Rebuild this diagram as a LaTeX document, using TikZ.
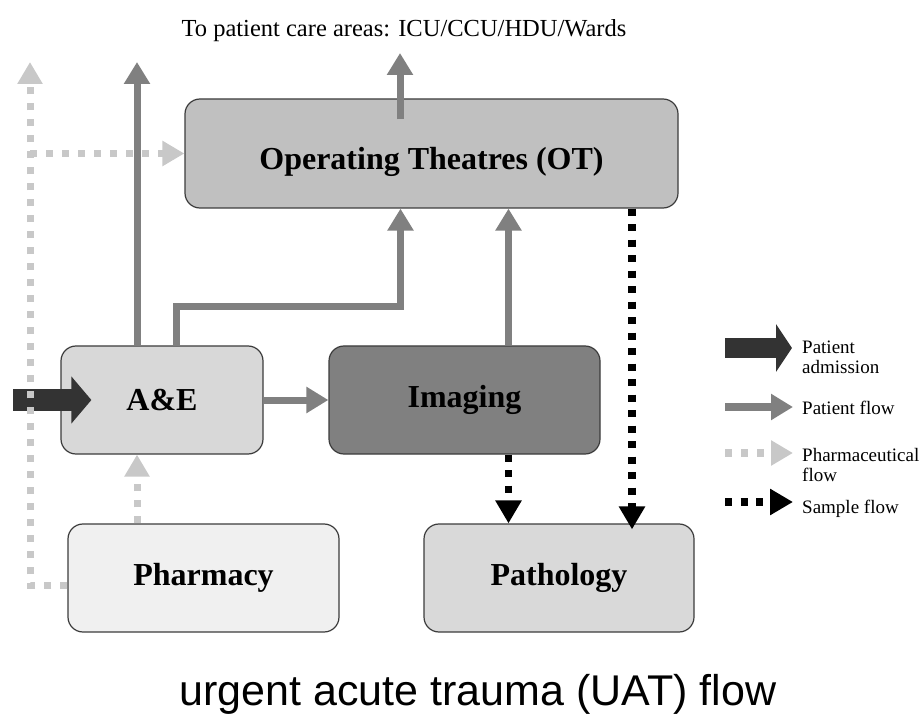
\documentclass[tikz,border=0pt]{standalone}
\usepackage{fontspec}
\setmainfont{Liberation Serif}
\newfontfamily\titlefont{Liberation Sans}
\usetikzlibrary{arrows.meta,calc}

\definecolor{boxline}{RGB}{60,60,60}
\definecolor{otfill}{RGB}{192,192,192}
\definecolor{aefill}{RGB}{216,216,216}
\definecolor{imgfill}{RGB}{128,128,128}
\definecolor{pharmfill}{RGB}{240,240,240}
\definecolor{pathfill}{RGB}{217,217,217}
\definecolor{pflowcol}{RGB}{128,128,128}
\definecolor{phflowcol}{RGB}{200,200,200}
\definecolor{admitcol}{RGB}{51,51,51}

\tikzset{
  box/.style={draw=boxline, line width=1.2pt, rounded corners=15pt, inner sep=0pt,
              minimum height=108pt, font=\fontsize{32}{36}\selectfont\bfseries},
  pflow/.style={pflowcol, line width=7pt, -{Triangle[width=25pt,length=22pt]}},
  phflow/.style={phflowcol, line width=7pt, dash pattern=on 7pt off 9pt,
                 -{Triangle[width=24pt,length=22pt]}},
  sflow/.style={black, line width=7.5pt, dash pattern=on 7pt off 8.5pt,
                -{Triangle[width=25pt,length=23pt]}},
  admit/.style={admitcol, line width=22pt, -{Triangle[width=46pt,length=20pt]}},
  legtext/.style={anchor=west, align=left, inner sep=0pt, font=\fontsize{19}{20}\selectfont}
}

\begin{document}
\begin{tikzpicture}[x=1pt, y=-1pt]
  \useasboundingbox (0,0) rectangle (924,719);

  % units
  \node (ot) at (431.5,153.5) [box, fill=otfill, minimum width=493pt, minimum height=109pt,
                               text height=40pt, text depth=7pt] {Operating Theatres (OT)};
  \node (ae) at (162,400) [box, fill=aefill, minimum width=202pt] {A\&E};
  \node (imaging) at (464.5,400) [box, fill=imgfill, minimum width=271pt] {Imaging};
  \node (pharmacy) at (203.5,578) [box, fill=pharmfill, minimum width=271pt] {Pharmacy};
  \node (pathology) at (559,578) [box, fill=pathfill, minimum width=270pt] {Pathology};

  \node (careareas) at (404,37) [anchor=base, font=\fontsize{24.5}{27}\selectfont] {To patient care areas: ICU/CCU/HDU/Wards};
  \node (title) at (478,705) [anchor=base, font=\titlefont\fontsize{43}{48}\selectfont] {urgent acute trauma (UAT) flow};

  \coordinate (careup) at (400,53);
  \coordinate (aeup) at (137,62);
  \coordinate (phtop) at (30,62);
  \coordinate (admin) at (13,400);
  \coordinate (img2ot) at ([xshift=44pt]imaging.north);
  \coordinate (ph2ae) at ([xshift=-25pt]ae.south);
  \coordinate (ot2pa) at ([xshift=73pt,yshift=-6pt]pathology.north);

  % patient flow
  \draw [admit] (admin) -- ([xshift=31pt]ae.west);
  \draw [pflow] ($(careup |- ot.north)+(0,21)$) -- (careup);
  \draw [pflow] (aeup |- ae.north) -- (aeup);
  \draw [pflow] ([xshift=14pt]ae.north) -- ++(0,-39) -| ([xshift=-31pt]ot.south);
  \draw [pflow] (img2ot) -- (img2ot |- ot.south);
  \draw [pflow] (ae) -- (imaging);

  % pharmaceutical flow
  \draw [phflow] (ph2ae |- pharmacy.north) -- (ph2ae);
  \draw [phflow] ([yshift=-7pt]pharmacy.west) -| (phtop);
  \draw [phflow] (phtop |- ot.west) -- (ot.west);

  % sample flow
  \draw [sflow] (ot2pa |- ot.south) -- (ot2pa);
  \draw [sflow] (img2ot |- imaging.south) -- (img2ot |- pathology.north);

  % legend
  \coordinate (leg1a) at (725,348);  \coordinate (leg1b) at (792,348);
  \coordinate (leg2a) at (725,407);  \coordinate (leg2b) at (793,407);
  \coordinate (leg3a) at (725,453);  \coordinate (leg3b) at (793,453);
  \coordinate (leg4a) at (725,502);  \coordinate (leg4b) at (793,502);
  \draw [admit, line width=20pt, -{Triangle[width=47pt,length=16pt]}] (leg1a) -- (leg1b);
  \draw [pflow, line width=8pt] (leg2a) -- (leg2b);
  \draw [phflow, line width=8pt] (leg3a) -- (leg3b);
  \draw [sflow, line width=8pt] (leg4a) -- (leg4b);
  \node (legadmit) at (802,357) [legtext] {Patient\\admission};
  \node (legpflow) at (802,408) [legtext] {Patient flow};
  \node (legphflow) at (802,465) [legtext] {Pharmaceutical\\flow};
  \node (legsflow) at (802,509) [legtext] {Sample flow};
\end{tikzpicture}
\end{document}
